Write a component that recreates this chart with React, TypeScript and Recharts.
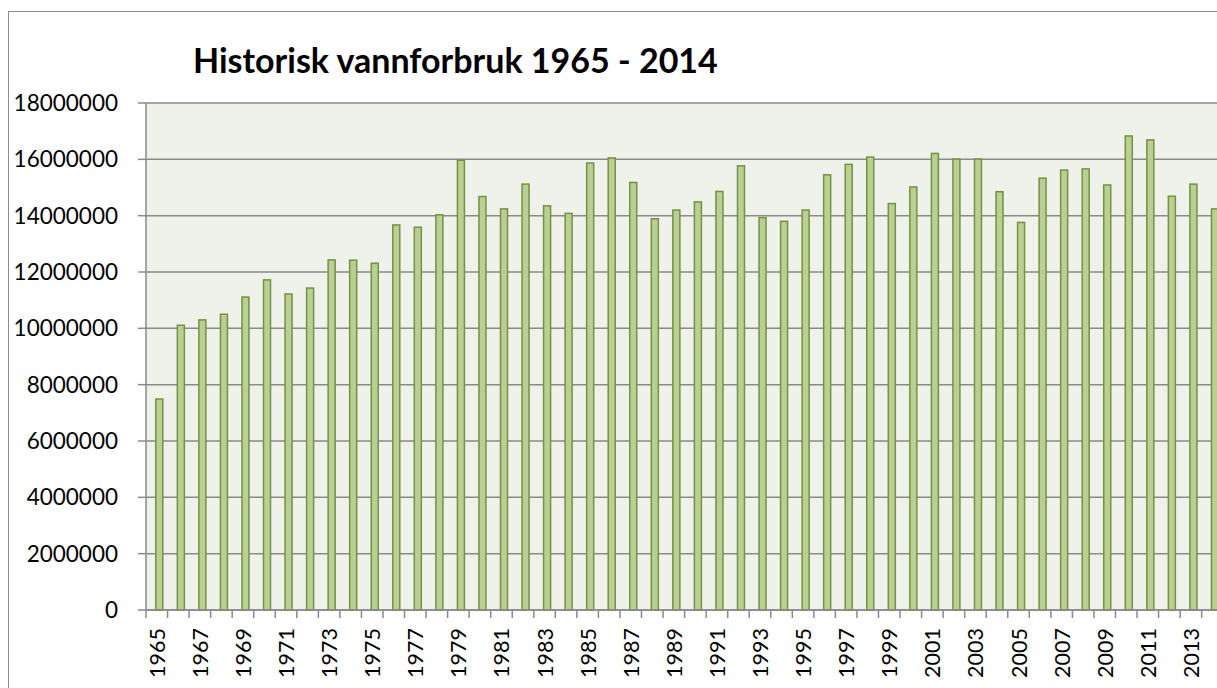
import React from "react";
import { BarChart, Bar, XAxis, YAxis, CartesianGrid } from "recharts";

const years: string[] = [
  "1965", "1966", "1967", "1968", "1969", "1970", "1971", "1972", "1973", "1974",
  "1975", "1976", "1977", "1978", "1979", "1980", "1981", "1982", "1983", "1984",
  "1985", "1986", "1987", "1988", "1989", "1990", "1991", "1992", "1993", "1994",
  "1995", "1996", "1997", "1998", "1999", "2000", "2001", "2002", "2003", "2004",
  "2005", "2006", "2007", "2008", "2009", "2010", "2011", "2012", "2013", "2014",
];

const consumption: number[] = [
  7490000, 10110000, 10300000, 10500000, 11110000, 11720000, 11220000, 11430000, 12430000, 12420000,
  12310000, 13670000, 13590000, 14030000, 15970000, 14680000, 14240000, 15120000, 14350000, 14080000,
  15870000, 16050000, 15180000, 13890000, 14200000, 14490000, 14860000, 15770000, 13930000, 13800000,
  14200000, 15450000, 15820000, 16080000, 14430000, 15020000, 16210000, 16010000, 16010000, 14850000,
  13760000, 15330000, 15620000, 15660000, 15090000, 16830000, 16690000, 14690000, 15120000, 14240000,
];

const yTicks: number[] = [0, 2000000, 4000000, 6000000, 8000000, 10000000, 12000000, 14000000, 16000000, 18000000];

const title = "Historisk vannforbruk 1965 - 2014";

const data = years.map((y, i) => ({ year: y, value: consumption[i] }));

const CHART_W = 1240;
const CHART_H = 700;
const MARGIN = { top: 91, right: 25.8, left: 0, bottom: 22 };
const Y_AXIS_W = 137;
const BAND = (CHART_W - MARGIN.left - MARGIN.right - Y_AXIS_W) / years.length;
const GRID = "#8a8a8a";

const XTick = (props: any) => {
  const { x, y, index, payload } = props;
  const tx = x;
  const ty = y + 18;
  return (
    <g>
      <line x1={x - BAND / 2} x2={x - BAND / 2} y1={y} y2={y + 8} stroke={GRID} strokeWidth={1.5} />
      {index % 2 === 0 ? (
        <text
          x={tx}
          y={ty}
          transform={`rotate(-90 ${tx} ${ty})`}
          textAnchor="end"
          dominantBaseline="central"
          fontFamily="Lato"
          fontSize={21.5}
          fill="#000"
        >
          {payload.value}
        </text>
      ) : null}
    </g>
  );
};

const BarShape = (props: any) => {
  const { x, y, width, height } = props;
  if (!height || height <= 0) return null;
  return (
    <rect
      x={x + 2.8}
      y={y}
      width={width}
      height={height}
      fill="#B9CF96"
      stroke="#76923C"
      strokeWidth={1.5}
    />
  );
};

export default function App() {
  return (
    <div
      style={{
        position: "relative",
        width: 1217,
        height: 688,
        overflow: "hidden",
        background: "#fff",
      }}
    >
      <style>{`html,body{margin:0;padding:0;overflow:hidden;}`}</style>
      <div
        style={{
          position: "absolute",
          left: 8,
          top: 11,
          width: 1300,
          height: 740,
          border: "1px solid #8c8c8c",
          background: "#fff",
        }}
      >
        <BarChart width={CHART_W} height={CHART_H} data={data} margin={MARGIN}>
          <CartesianGrid vertical={false} stroke={GRID} strokeWidth={1.5} fill="#EFF2EA" />
          <XAxis
            dataKey="year"
            interval={0}
            height={80}
            tick={<XTick />}
            tickLine={false}
            tickSize={0}
            tickMargin={0}
            axisLine={{ stroke: GRID, strokeWidth: 1.5 }}
          />
          <YAxis
            width={Y_AXIS_W}
            domain={[0, 18000000]}
            ticks={yTicks}
            interval={0}
            tickSize={8}
            tickMargin={20}
            tickLine={{ stroke: GRID, strokeWidth: 1.5 }}
            axisLine={{ stroke: GRID, strokeWidth: 1.5 }}
            tick={{ fontFamily: "Lato", fontSize: 22.5, fill: "#000" }}
          />
          <Bar dataKey="value" barSize={7} shape={<BarShape />} isAnimationActive={false} />
        </BarChart>
      </div>
      <svg
        style={{ position: "absolute", left: 0, top: 0, pointerEvents: "none" }}
        width={1217}
        height={100}
      >
        <text x={193} y={73} fontFamily="Lato" fontWeight="bold" fontSize={34} fill="#000">
          {title}
        </text>
      </svg>
    </div>
  );
}
